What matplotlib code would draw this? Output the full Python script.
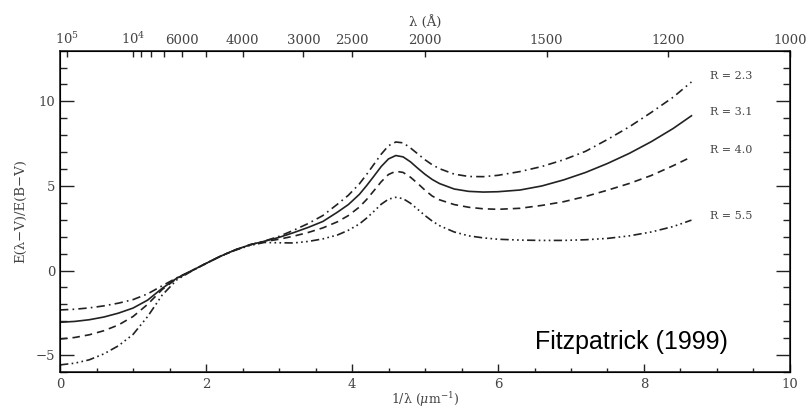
import matplotlib
matplotlib.use('Agg')
import matplotlib.pyplot as plt
from matplotlib.ticker import MultipleLocator, FixedLocator

plt.rcParams['font.family'] = 'DejaVu Serif'
plt.rcParams['mathtext.fontset'] = 'dejavuserif'

# inverse wavelength (1/micron)
x = [0.0, 0.2, 0.4, 0.6, 0.8, 1.0, 1.2, 1.4, 1.6, 1.8, 2.0, 2.2, 2.4, 2.6, 2.8,
     3.0, 3.2, 3.4, 3.6, 3.8, 3.95, 4.1,
     4.2, 4.3, 4.4, 4.5, 4.6, 4.7, 4.8, 4.9, 5.0, 5.1, 5.2,
     5.4, 5.6, 5.8, 6.0,
     6.3, 6.6, 6.9, 7.2, 7.5, 7.8, 8.1, 8.4, 8.65]

# E(lambda-V)/E(B-V) for each R
k_23 = [-2.33, -2.29, -2.21, -2.09, -1.93, -1.72, -1.38, -0.90, -0.43, -0.02, 0.42, 0.85, 1.22, 1.52, 1.74,
        2.02, 2.38, 2.78, 3.25, 3.92, 4.45, 5.12,
        5.68, 6.28, 6.88, 7.38, 7.60, 7.55, 7.25, 6.90, 6.55, 6.25, 6.02,
        5.70, 5.56, 5.55, 5.63,
        5.85, 6.15, 6.55, 7.05, 7.75, 8.50, 9.35, 10.25, 11.15]
k_31 = [-3.06, -3.01, -2.91, -2.75, -2.52, -2.22, -1.75, -1.05, -0.45, -0.02, 0.42, 0.85, 1.22, 1.52, 1.73,
        1.96, 2.24, 2.55, 2.90, 3.45, 3.90, 4.50,
        5.02, 5.58, 6.15, 6.60, 6.80, 6.72, 6.43, 6.05, 5.69, 5.38, 5.14,
        4.82, 4.68, 4.64, 4.66,
        4.76, 5.00, 5.36, 5.80, 6.33, 6.93, 7.62, 8.40, 9.15]
k_40 = [-4.05, -3.96, -3.80, -3.56, -3.22, -2.72, -2.00, -1.12, -0.47, -0.02, 0.42, 0.85, 1.22, 1.52, 1.71,
        1.85, 2.03, 2.25, 2.52, 2.88, 3.25, 3.75,
        4.20, 4.72, 5.25, 5.68, 5.87, 5.80, 5.52, 5.15, 4.75, 4.40, 4.18,
        3.90, 3.74, 3.65, 3.62,
        3.68, 3.85, 4.07, 4.38, 4.75, 5.15, 5.62, 6.20, 6.72]
k_55 = [-5.58, -5.48, -5.28, -4.93, -4.45, -3.78, -2.72, -1.45, -0.55, -0.04, 0.42, 0.85, 1.20, 1.48, 1.66,
        1.64, 1.63, 1.72, 1.87, 2.10, 2.38, 2.75,
        3.10, 3.50, 3.92, 4.22, 4.33, 4.25, 3.98, 3.62, 3.25, 2.92, 2.65,
        2.28, 2.05, 1.93, 1.85,
        1.80, 1.78, 1.78, 1.82, 1.90, 2.05, 2.28, 2.60, 2.98]

r_labels = ['R = 2.3', 'R = 3.1', 'R = 4.0', 'R = 5.5']
label_y = [11.5, 9.4, 7.1, 3.2]

# top axis wavelengths (Angstrom)
wl_major = [100000, 10000, 6000, 4000, 3000, 2500, 2000, 1500, 1200, 1000]
wl_major_labels = ['$10^5$', '$10^4$', '6000', '4000', '3000', '2500', '2000', '1500', '1200', '1000']
wl_minor = [9000, 8000, 7000, 5000]

col = '#222222'
txt = '#444444'

fig = plt.figure(figsize=(8.08, 4.11), dpi=100)
ax = fig.add_axes([0.0743, 0.0949, 0.9034, 0.7818])

ax.plot(x, k_23, color=col, lw=1.2, ls=(0, (5, 2.5, 1, 2.5)))
ax.plot(x, k_31, color=col, lw=1.2, ls='-')
ax.plot(x, k_40, color=col, lw=1.2, ls=(0, (4.5, 3)))
ax.plot(x, k_55, color=col, lw=1.2, ls=(0, (5, 2, 1, 2, 1, 2, 1, 2)))

for lab, yy in zip(r_labels, label_y):
    ax.text(8.9, yy, lab, fontsize=8, color=txt, va='center', ha='left')

ax.text(6.5, -4.2, 'Fitzpatrick (1999)', fontsize=18, color='black',
        family='Liberation Sans', va='center', ha='left')

ax.set_xlim(0, 10)
ax.set_ylim(-6, 13)
ax.xaxis.set_major_locator(MultipleLocator(2))
ax.xaxis.set_minor_locator(MultipleLocator(0.5))
ax.yaxis.set_major_locator(MultipleLocator(5))
ax.yaxis.set_minor_locator(MultipleLocator(1))
ax.tick_params(which='both', direction='in', right=True, top=False,
               color=col, labelcolor=txt, labelsize=9.5)
ax.tick_params(which='major', axis='y', length=10, width=1)
ax.tick_params(which='minor', axis='y', length=5, width=1)
ax.tick_params(which='major', axis='x', length=6, width=1, pad=4)
ax.tick_params(which='minor', axis='x', length=3, width=1)
ax.set_xlabel(r'1/λ ($\mu$m$^{-1}$)', fontsize=9, color=txt, labelpad=0)
ax.set_ylabel('E(λ−V)/E(B−V)', fontsize=9.5, color=txt, labelpad=6)
for s in ax.spines.values():
    s.set_color(col)
    s.set_linewidth(1.2)

ax2 = ax.twiny()
ax2.set_xlim(0, 10)
ax2.xaxis.set_major_locator(FixedLocator([1e4 / w for w in wl_major]))
ax2.set_xticklabels(wl_major_labels)
ax2.xaxis.set_minor_locator(FixedLocator([1e4 / w for w in wl_minor]))
ax2.tick_params(which='both', direction='in', length=4, width=1, color=col,
                labelcolor=txt, labelsize=9.5, pad=3)
ax2.set_xlabel('λ (Å)', fontsize=9.5, color=txt, labelpad=3)

fig.savefig('out.png', dpi=100)
